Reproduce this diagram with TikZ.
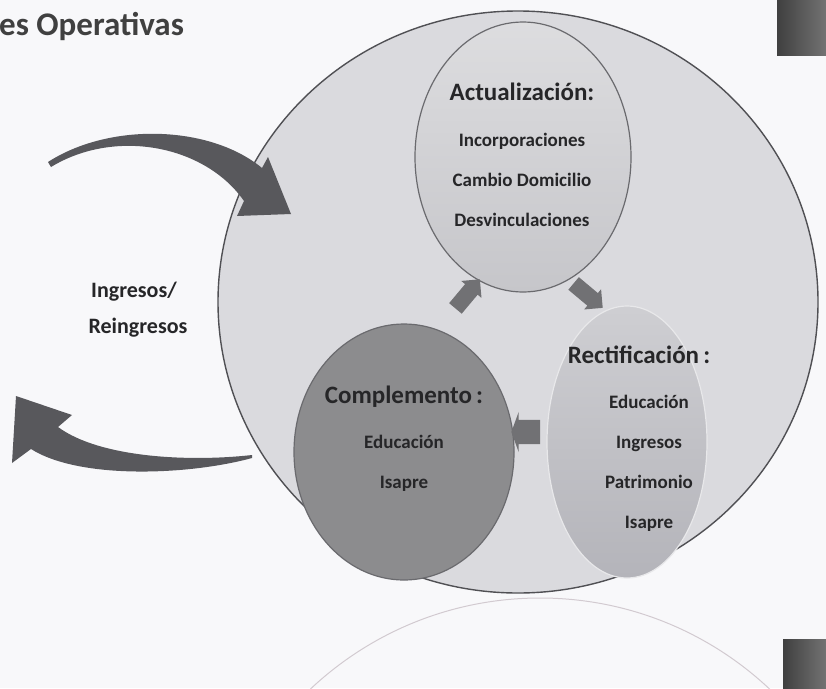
\documentclass[tikz,border=0pt]{standalone}
\usepackage{fontspec}
\setmainfont{Carlito}
\usetikzlibrary{shapes.geometric, shapes.arrows, positioning}
\definecolor{bgwhite}{HTML}{F8F8FA}
\definecolor{ringfill}{HTML}{DADADE}
\definecolor{ringline}{HTML}{505054}
\definecolor{actfill}{HTML}{C6C6CA}
\definecolor{compfill}{HTML}{8C8C8E}
\definecolor{rectfill}{HTML}{B4B4BA}
\definecolor{arrowgray}{HTML}{58585C}
\definecolor{textgray}{HTML}{262628}
\definecolor{ghostline}{HTML}{D2CAD0}
\tikzset{
x=1pt, y=-1pt,
ring/.style={%
    ellipse,
    inner sep=0pt,
    draw=ringline,
    line width=1.4pt
},
bubble/.style={%
    ellipse,
    inner sep=0pt,
    draw=ringline!85,
    line width=1.2pt
},
head/.style={%
    font=\bfseries\fontsize{25}{30}\selectfont,
    text=textgray, anchor=base, inner sep=0pt
},
item/.style={%
    font=\bfseries\fontsize{19}{23}\selectfont,
    text=textgray, anchor=base, inner sep=0pt
},
side/.style={item, font=\bfseries\fontsize{22}{26}\selectfont},
titletext/.style={%
    anchor=base west, inner sep=0pt, text=black!75,
    font=\bfseries\fontsize{33}{38}\selectfont
},
cycarrow/.style={%
    single arrow, fill=arrowgray!85, draw=none,
    minimum height=38pt, inner sep=8pt,
    single arrow head extend=5pt
},
bigarrow/.style={fill=arrowgray, draw=none},
corner/.style={left color=black!75, right color=black!55, draw=none},
}

\begin{document}
\begin{tikzpicture}

\useasboundingbox (0,0) rectangle (826,688);
\clip (0,0) rectangle (826,688);
\fill[bgwhite] (0,0) rectangle (826,688);

% faint ring below and corner blocks
\draw[ghostline, line width=1pt] (540,933) circle [radius=335];
\fill[corner] (777,0) rectangle (826,55);
\fill[corner] (783,639) rectangle (826,688);

\node[titletext] (title) at (-1,35) {es Operativas};

% outer ring and the three bubbles
\node[ring, minimum width=600pt, minimum height=582pt, fill=ringfill] (ring) at (518,302) {};
\node[bubble, minimum width=216pt, minimum height=270pt,
      top color=actfill!60!white, bottom color=actfill] (act) at (523,157) {};
\node[bubble, minimum width=220pt, minimum height=256pt, fill=compfill] (comp) at (404,452) {};
\node[bubble, minimum width=160pt, minimum height=272pt, draw=white!70!rectfill,
      top color=rectfill!65!white, bottom color=rectfill] (rect) at (627,442) {};

% texts
\node[head] (act-h) at (522,100) {Actualización:};
\foreach \t [count=\i] in {Incorporaciones, Cambio Domicilio, Desvinculaciones}
  \node[item] (act-\i) at (522,106+40*\i) {\t};

\node[head] (rect-h) at (639,363) {Rectificación\,:};
\foreach \t [count=\i] in {Educación, Ingresos, Patrimonio, Isapre}
  \node[item] (rect-\i) at (649,368+40*\i) {\t};

\node[head] (comp-h) at (404,403) {Complemento\,:};
\foreach \t [count=\i] in {Educación, Isapre}
  \node[item] (comp-\i) at (404,408+40*\i) {\t};

% cycle arrows
\node[cycarrow, rotate=-40] (act2rect) at (585,293) {};
\node[cycarrow, rotate=180, minimum height=16pt, inner sep=12pt,
      single arrow tip angle=140, single arrow head extend=8pt] (rect2comp) at (528,432) {};
\node[cycarrow, rotate=50] (comp2act) at (465,297) {};

% in / out arrows
\coordinate (in-tail) at (48,162);
\coordinate (in-tip) at (291,214);
\fill[bigarrow] (in-tail) .. controls (110,122) and (210,125) .. (262,168)
  -- (268,157) -- (in-tip) -- (237,216) -- (244,201)
  .. controls (205,145) and (115,128) .. (51,167) -- cycle;

\coordinate (out-tail) at (252,455);
\coordinate (out-tip) at (16,396);
\fill[bigarrow] (out-tail) .. controls (190,462) and (100,458) .. (58,427)
  -- (72,415) -- (out-tip) -- (12,463) -- (31,449)
  .. controls (80,480) and (190,475) .. (252,458) -- cycle;

\node[side] (io-1) at (134,297) {Ingresos/};
\node[side] (io-2) at (138,333) {Reingresos};

\end{tikzpicture}
\end{document}
